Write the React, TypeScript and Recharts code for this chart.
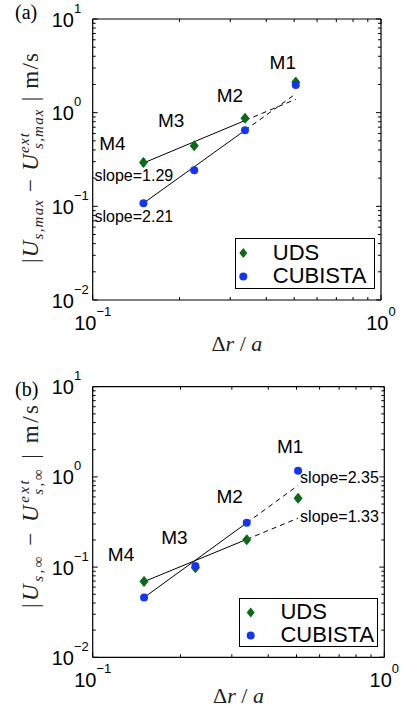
import React from 'react';
import { ComposedChart, XAxis, YAxis, Scatter, Line, Legend } from 'recharts';

// ---------- data ----------
const meshLabels = ['M4', 'M3', 'M2', 'M1'];
const deltaR = [0.15, 0.225, 0.3375, 0.50625];

// panel (a): |U_s,max - U_s,max^ext|
const udsA = [0.294, 0.443, 0.87, 2.12];
const cubistaA = [0.108, 0.243, 0.648, 1.97];
const udsFitA = [0.29, 0.825, 1.39]; // at M4, M2, M1
const cubistaFitA = [0.108, 0.648, 1.59];
const slopesA = ['1.29', '2.21']; // UDS, CUBISTA

// panel (b): |U_s,inf - U_s,inf^ext|
const udsB = [0.0694, 0.0985, 0.201, 0.58];
const cubistaB = [0.046, 0.1026, 0.311, 1.17];
const udsFitB = [0.069, 0.203, 0.349];
const cubistaFitB = [0.046, 0.309, 0.805];
const slopesB = ['1.33', '2.35'];

const xTicks = [0.1, 0.2, 0.3, 0.4, 0.5, 0.6, 0.7, 0.8, 0.9, 1];
const yTicks = [
  0.01, 0.02, 0.03, 0.04, 0.05, 0.06, 0.07, 0.08, 0.09,
  0.1, 0.2, 0.3, 0.4, 0.5, 0.6, 0.7, 0.8, 0.9,
  1, 2, 3, 4, 5, 6, 7, 8, 9, 10,
];

// ---------- style ----------
const GREEN = '#0b6a1a';
const BLUE = '#1536f0';
const SANS = '"Liberation Sans", Arial, Helvetica, sans-serif';
const SERIF = '"Liberation Serif", "Times New Roman", serif';

const isDecade = (v: number) => Math.abs(Math.log10(v) - Math.round(Math.log10(v))) < 1e-6;
const expStr = (v: number) => {
  const e = Math.round(Math.log10(v));
  return e < 0 ? '\u2212' + String(-e) : String(e);
};

const MAJ = 5;
const MIN = 3;

const XTickBottom = (props: any) => {
  const { x, y, payload } = props;
  const v = payload.value;
  const major = isDecade(v);
  return (
    <g>
      <line x1={x} x2={x} y1={y} y2={y - (major ? MAJ : MIN)} stroke="#000" strokeWidth={1} />
      {major && (
        <text x={x} y={y + 29.5} textAnchor="middle" fontSize={20} fontFamily={SANS} fill="#000">
          10<tspan dy={-14} fontSize={13}>{expStr(v)}</tspan>
        </text>
      )}
    </g>
  );
};
const XTickTop = (props: any) => {
  const { x, y, payload } = props;
  const major = isDecade(payload.value);
  return <line x1={x} x2={x} y1={y} y2={y + (major ? MAJ : MIN)} stroke="#000" strokeWidth={1} />;
};
const YTickLeft = (props: any) => {
  const { x, y, payload } = props;
  const v = payload.value;
  const major = isDecade(v);
  return (
    <g>
      <line x1={x} x2={x + (major ? MAJ : MIN)} y1={y} y2={y} stroke="#000" strokeWidth={1} />
      {major && (
        <text x={x - 41} y={y + 7.5} textAnchor="start" fontSize={20} fontFamily={SANS} fill="#000">
          10<tspan dy={-14} fontSize={13}>{expStr(v)}</tspan>
        </text>
      )}
    </g>
  );
};
const YTickRight = (props: any) => {
  const { x, y, payload } = props;
  const major = isDecade(payload.value);
  return <line x1={x} x2={x - (major ? MAJ : MIN)} y1={y} y2={y} stroke="#000" strokeWidth={1} />;
};

const Diamond = (props: any) => {
  const { cx, cy } = props;
  if (cx == null || cy == null) return null;
  return (
    <polygon
      points={`${cx},${cy - 5} ${cx + 4},${cy} ${cx},${cy + 5} ${cx - 4},${cy}`}
      fill={GREEN}
      stroke={GREEN}
    />
  );
};
const Dot = (props: any) => {
  const { cx, cy } = props;
  if (cx == null || cy == null) return null;
  return <circle cx={cx} cy={cy} r={4} fill={BLUE} />;
};

type PanelProps = {
  top: number;
  height: number;
  margin: { top: number; right: number; bottom: number; left: number };
  uds: number[];
  cub: number[];
  udsFit: number[];
  cubFit: number[];
  slopes: string[];
  sub: string;
  panelLabel: string;
  panelLabelY: number;
  yLabelCenter: number;
  yLabelLength: number;
  xLabelDy: number;
  meshOffsets: number[][];
  slopeOffsets: { uds: number[]; cub: number[]; udsIdx: number; cubIdx: number; dashed: boolean };
  legendBox: { left: number; top: number; width: number; height: number; mx: number; tx: number; r1: number; r2: number };
};

const AX = 1; // axis band thickness

const Panel = (p: PanelProps) => {
  const pts = (ys: number[]) => deltaR.map((x, i) => ({ x, y: ys[i] }));
  const fitX = [deltaR[0], deltaR[2], deltaR[3]];
  const fitPts = (ys: number[]) => fitX.map((x, i) => ({ x, y: ys[i] }));
  const udsFitPts = fitPts(p.udsFit);
  const cubFitPts = fitPts(p.cubFit);
  const meshPts = deltaR.map((x, i) => ({ x, y: Math.max(p.uds[i], p.cub[i]), i }));

  const MeshLabel = (props: any) => {
    const { cx, cy, payload } = props;
    if (cx == null) return null;
    const i = payload.i;
    const [dx, dy] = p.meshOffsets[i];
    return (
      <text x={cx + dx} y={cy + dy + 7} textAnchor="middle" fontSize={19} fontFamily={SANS} fill="#000">
        {meshLabels[i]}
      </text>
    );
  };

  const slopeLabel = (which: 'uds' | 'cub') => (props: any) => {
    const { x, y, index } = props;
    const idx = which === 'uds' ? p.slopeOffsets.udsIdx : p.slopeOffsets.cubIdx;
    if (index !== idx) return null;
    const [dx, dy] = which === 'uds' ? p.slopeOffsets.uds : p.slopeOffsets.cub;
    return (
      <text key={which} x={x + dx} y={y + dy + 5.5} textAnchor="start" fontSize={16} fontFamily={SANS} fill="#000">
        slope={which === 'uds' ? p.slopes[0] : p.slopes[1]}
      </text>
    );
  };

  const plotH = p.height - p.margin.top - p.margin.bottom - 2 * AX;
  const plotTop = p.margin.top + AX;

  const YLab = () => {
    const cx = 31;
    const cy = p.yLabelCenter;
    return (
      <g>
        <text
          transform={`rotate(-90, ${cx}, ${cy})`}
          x={cx}
          y={cy + 7}
          textAnchor="middle"
          fontSize={23}
          fontFamily={SERIF}
          fill="#222"
          textLength={p.yLabelLength}
          lengthAdjust="spacing"
        >
          <tspan>|</tspan>
          <tspan fontStyle="italic">U</tspan>
          <tspan fontStyle="italic" fontSize={15} dy={5}>{p.sub}</tspan>
          <tspan dy={-5}>{' \u2212 '}</tspan>
          <tspan fontStyle="italic">U</tspan>
          <tspan fontStyle="italic" fontSize={15} dy={-9}>ext</tspan>
          <tspan fontStyle="italic" fontSize={15} dx={-17} dy={14}>{p.sub}</tspan>
          <tspan dy={-5}>{' | m/s'}</tspan>
        </text>
        <text x={15} y={p.panelLabelY} fontSize={20} fontFamily={SERIF} fill="#000">
          {p.panelLabel}
        </text>
      </g>
    );
  };

  const XLab = () => {
    const plotL = p.margin.left + AX;
    const plotW = 403 - p.margin.left - p.margin.right - 2 * AX;
    const cx = plotL + plotW / 2;
    return (
      <text x={cx} y={plotTop + plotH + p.xLabelDy} textAnchor="middle" fontSize={22} fontFamily={SERIF} fill="#222">
        <tspan>{'\u0394'}</tspan>
        <tspan fontStyle="italic">r</tspan>
        <tspan>{' / '}</tspan>
        <tspan fontStyle="italic">a</tspan>
      </text>
    );
  };

  const lb = p.legendBox;
  const LegendContent = () => (
    <div
      style={{
        position: 'relative',
        width: lb.width,
        height: lb.height,
        boxSizing: 'border-box',
        border: '1.5px solid #000',
        background: '#fff',
        fontFamily: SANS,
        fontSize: 22,
        color: '#000',
      }}
    >
      <svg width={lb.width} height={lb.height} style={{ position: 'absolute', left: -1.5, top: -1.5 }}>
        <polygon
          points={`${lb.mx},${lb.r1 - 5} ${lb.mx + 4},${lb.r1} ${lb.mx},${lb.r1 + 5} ${lb.mx - 4},${lb.r1}`}
          fill={GREEN}
        />
        <circle cx={lb.mx} cy={lb.r2} r={4} fill={BLUE} />
      </svg>
      <div style={{ position: 'absolute', left: lb.tx - 1.5, top: lb.r1 - 1.5 - 12, lineHeight: '24px' }}>UDS</div>
      <div style={{ position: 'absolute', left: lb.tx - 1.5, top: lb.r2 - 1.5 - 12, lineHeight: '24px' }}>CUBISTA</div>
    </div>
  );

  const axisLine = { stroke: '#000', strokeWidth: 1.2 };

  return (
    <div style={{ position: 'absolute', left: 0, top: p.top }}>
      <ComposedChart width={403} height={p.height} margin={p.margin}>
        <XAxis
          xAxisId={0}
          dataKey="x"
          type="number"
          scale="log"
          domain={[0.1, 1]}
          allowDataOverflow
          ticks={xTicks}
          interval={0}
          height={AX}
          tickSize={0}
          tickMargin={0}
          tickLine={false}
          axisLine={axisLine}
          tick={XTickBottom}
          label={<XLab />}
        />
        <XAxis
          xAxisId="top"
          orientation="top"
          dataKey="x"
          type="number"
          scale="log"
          domain={[0.1, 1]}
          allowDataOverflow
          ticks={xTicks}
          interval={0}
          height={AX}
          tickSize={0}
          tickMargin={0}
          tickLine={false}
          axisLine={axisLine}
          tick={XTickTop}
        />
        <YAxis
          yAxisId={0}
          type="number"
          scale="log"
          domain={[0.01, 10]}
          allowDataOverflow
          ticks={yTicks}
          interval={0}
          width={AX}
          tickSize={0}
          tickMargin={0}
          tickLine={false}
          axisLine={axisLine}
          tick={YTickLeft}
          label={<YLab />}
        />
        <YAxis
          yAxisId="right"
          orientation="right"
          type="number"
          scale="log"
          domain={[0.01, 10]}
          allowDataOverflow
          ticks={yTicks}
          interval={0}
          width={AX}
          tickSize={0}
          tickMargin={0}
          tickLine={false}
          axisLine={axisLine}
          tick={YTickRight}
        />
        <Line
          data={udsFitPts.slice(0, 2)}
          dataKey="y"
          type="linear"
          stroke="#000"
          strokeWidth={1}
          dot={false}
          isAnimationActive={false}
          label={p.slopeOffsets.dashed ? undefined : slopeLabel('uds')}
        />
        <Line
          data={udsFitPts.slice(1, 3)}
          dataKey="y"
          type="linear"
          stroke="#000"
          strokeWidth={1}
          strokeDasharray="5 4"
          dot={false}
          isAnimationActive={false}
          label={p.slopeOffsets.dashed ? slopeLabel('uds') : undefined}
        />
        <Line
          data={cubFitPts.slice(0, 2)}
          dataKey="y"
          type="linear"
          stroke="#000"
          strokeWidth={1}
          dot={false}
          isAnimationActive={false}
          label={p.slopeOffsets.dashed ? undefined : slopeLabel('cub')}
        />
        <Line
          data={cubFitPts.slice(1, 3)}
          dataKey="y"
          type="linear"
          stroke="#000"
          strokeWidth={1}
          strokeDasharray="5 4"
          dot={false}
          isAnimationActive={false}
          label={p.slopeOffsets.dashed ? slopeLabel('cub') : undefined}
        />
        <Scatter data={pts(p.uds)} dataKey="y" shape={<Diamond />} isAnimationActive={false} />
        <Scatter data={pts(p.cub)} dataKey="y" shape={<Dot />} isAnimationActive={false} />
        <Scatter data={meshPts} dataKey="y" shape={<MeshLabel />} isAnimationActive={false} />
        <Legend
          layout="vertical"
          align="center"
          verticalAlign="middle"
          content={<LegendContent />}
          wrapperStyle={{ position: 'absolute', left: lb.left, top: lb.top, width: lb.width, height: lb.height }}
        />
      </ComposedChart>
    </div>
  );
};

export default function App() {
  return (
    <div style={{ position: 'absolute', left: 0, top: 0, width: 403, height: 713, background: '#fff' }}>
      <Panel
        top={0}
        height={356}
        margin={{ top: 18, right: 21, bottom: 55, left: 91.7 }}
        uds={udsA}
        cub={cubistaA}
        udsFit={udsFitA}
        cubFit={cubistaFitA}
        slopes={slopesA}
        sub="s,max"
        panelLabel="(a)"
        panelLabelY={19}
        yLabelCenter={158}
        yLabelLength={210}
        xLabelDy={51}
        meshOffsets={[[-31, -19], [-23, -26], [-15, -23], [-13, -20]]}
        slopeOffsets={{ uds: [-49, 12], cub: [-49, 13], udsIdx: 0, cubIdx: 0, dashed: false }}
        legendBox={{ left: 235, top: 238.3, width: 140, height: 51, mx: 8.3, tx: 38.3, r1: 15, r2: 38.4 }}
      />
      <Panel
        top={356}
        height={357}
        margin={{ top: 29.7, right: 17.7, bottom: 54.7, left: 91.7 }}
        uds={udsB}
        cub={cubistaB}
        udsFit={udsFitB}
        cubFit={cubistaFitB}
        slopes={slopesB}
        sub={'s,\u221E'}
        panelLabel="(b)"
        panelLabelY={40}
        yLabelCenter={150.5}
        yLabelLength={203}
        xLabelDy={46}
        meshOffsets={[[-23, -27], [-21, -29], [-17, -27], [-8, -25]]}
        slopeOffsets={{ uds: [2, -2], cub: [2, -7.5], udsIdx: 1, cubIdx: 1, dashed: true }}
        legendBox={{ left: 239.3, top: 242.3, width: 138.4, height: 49, mx: 11.7, tx: 41.7, r1: 14.4, r2: 37.4 }}
      />
    </div>
  );
}
